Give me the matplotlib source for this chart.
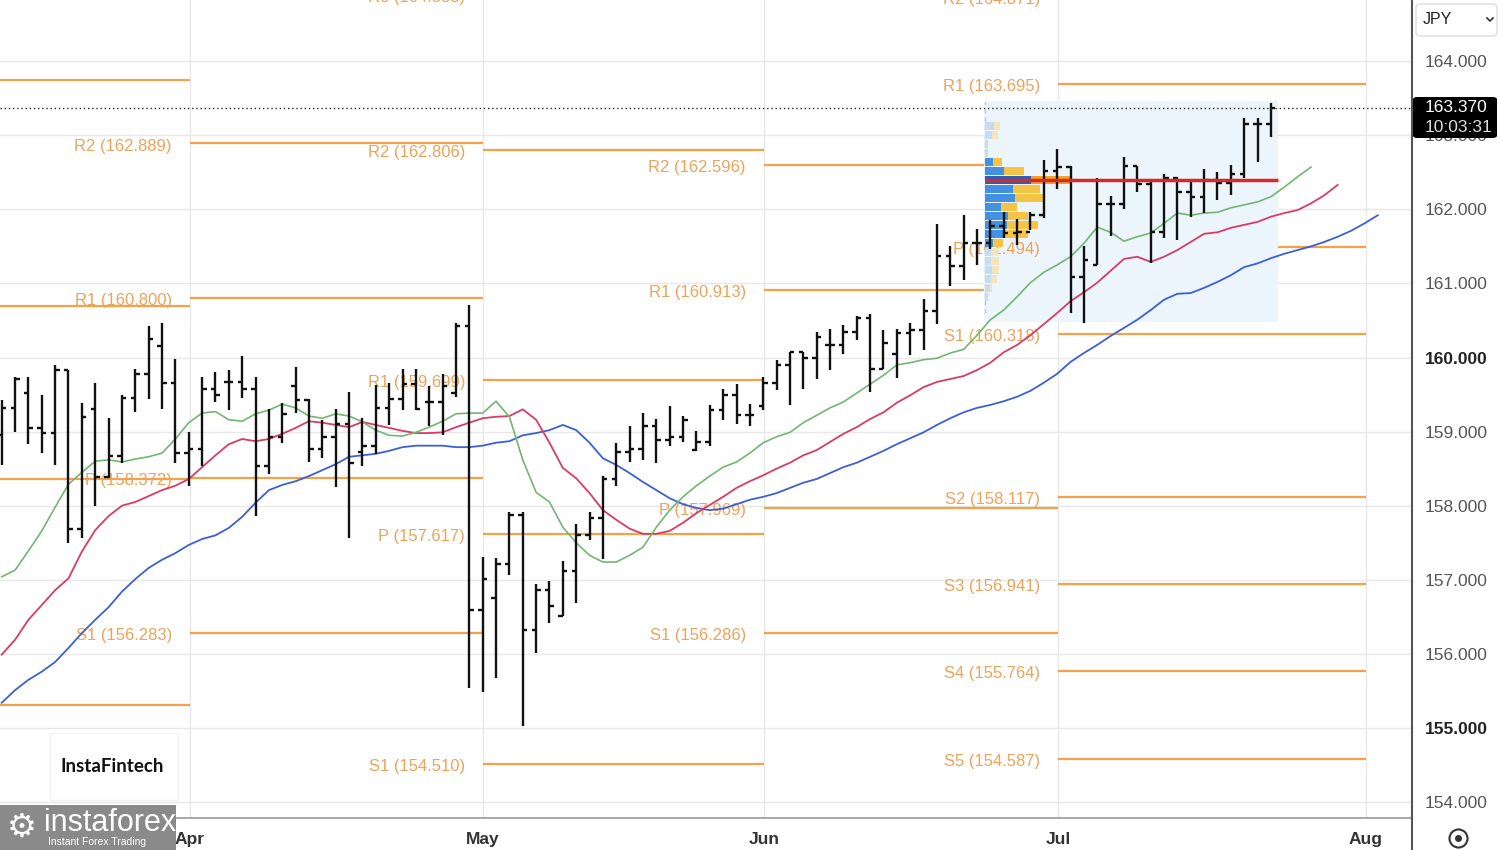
import numpy as np
import matplotlib
matplotlib.use('Agg')
import matplotlib.pyplot as plt
from matplotlib.patches import Rectangle, FancyBboxPatch
from matplotlib.lines import Line2D

plt.rcParams['font.family'] = ['Liberation Sans', 'DejaVu Sans']

# daily OHLC bars
opens = [158.95, 159.32, 159.52, 159.05, 158.98, 159.83, 157.68, 159.31, 158.39, 158.67,
         159.46, 159.78, 160.15, 159.66, 158.71, 158.77, 159.58, 159.67, 159.67, 159.58,
         158.53, 158.93, 159.61, 159.42, 158.76, 158.93, 159.10, 158.73, 158.81, 159.32,
         159.44, 159.64, 159.40, 159.40, 159.52, 160.43, 156.59, 156.75, 157.21, 157.87,
         156.32, 156.86, 156.51, 157.12, 157.61, 157.84, 158.36, 158.72, 158.77, 159.07,
         158.89, 158.93, 158.75, 158.86, 159.29, 159.49, 159.22, 159.35, 159.65, 159.90,
         160.07, 160.00, 160.17, 160.17, 160.35, 160.53, 159.85, 160.05, 160.33, 160.37,
         160.63, 161.37, 161.23, 161.55, 161.55, 161.78, 161.68, 161.69, 161.92, 162.52,
         162.57, 161.08, 161.25, 162.07, 162.07, 162.58, 162.34, 161.70, 162.42, 162.23,
         162.17, 162.39, 162.36, 162.48, 163.15, 163.15]
highs = [159.43, 159.74, 159.74, 159.49, 159.90, 159.83, 159.38, 159.65, 159.19, 159.49,
         159.84, 160.42, 160.46, 159.98, 159.00, 159.74, 159.81, 159.83, 160.02, 159.74,
         159.30, 159.38, 159.87, 159.44, 159.15, 159.30, 159.53, 159.19, 159.63, 159.65,
         159.84, 159.84, 159.62, 159.78, 160.46, 160.71, 157.31, 157.29, 157.92, 157.92,
         156.94, 156.98, 157.26, 157.75, 157.92, 158.40, 158.84, 159.07, 159.25, 159.17,
         159.34, 159.21, 159.01, 159.36, 159.57, 159.64, 159.37, 159.74, 159.97, 160.08,
         160.07, 160.34, 160.38, 160.44, 160.56, 160.59, 160.37, 160.39, 160.47, 160.79,
         161.80, 161.50, 161.92, 161.74, 161.86, 161.96, 161.87, 161.97, 162.67, 162.82,
         162.58, 161.50, 162.42, 162.18, 162.70, 162.58, 162.40, 162.48, 162.44, 162.40,
         162.54, 162.51, 162.60, 163.23, 163.23, 163.43]
lows = [158.55, 159.00, 158.83, 158.71, 158.55, 157.49, 157.56, 158.00, 158.37, 158.57,
        159.27, 159.44, 159.31, 158.58, 158.26, 158.53, 159.40, 159.29, 159.46, 157.86,
        158.43, 158.84, 159.25, 158.59, 158.64, 158.25, 157.57, 158.54, 158.70, 159.09,
        159.29, 159.29, 159.08, 158.95, 159.47, 155.54, 155.49, 155.67, 157.07, 155.02,
        156.01, 156.42, 156.51, 156.69, 157.54, 157.28, 158.26, 158.59, 158.62, 158.57,
        158.80, 158.86, 158.74, 158.80, 159.16, 159.10, 159.08, 159.29, 159.56, 159.36,
        159.57, 159.71, 159.83, 160.05, 160.23, 159.53, 159.85, 159.72, 160.03, 160.10,
        160.45, 160.97, 161.05, 161.25, 161.47, 161.61, 161.52, 161.72, 161.88, 162.28,
        160.60, 160.46, 161.25, 161.64, 162.01, 162.24, 161.28, 161.61, 161.58, 161.89,
        161.95, 162.12, 162.19, 162.42, 162.64, 162.98]
closes = [159.32, 159.71, 159.05, 158.98, 159.83, 157.68, 159.20, 158.39, 158.67, 159.46,
          159.78, 160.25, 159.66, 158.71, 158.77, 159.58, 159.49, 159.67, 159.58, 158.53,
          158.93, 159.24, 159.42, 158.76, 158.93, 159.10, 158.58, 158.81, 159.32, 159.44,
          159.64, 159.30, 159.40, 159.62, 160.43, 156.59, 157.01, 157.21, 157.87, 156.32,
          156.86, 156.64, 157.12, 157.61, 157.84, 158.36, 158.72, 158.77, 159.07, 158.89,
          158.93, 159.16, 158.86, 159.29, 159.49, 159.22, 159.22, 159.65, 159.90, 160.07,
          160.00, 160.27, 160.17, 160.35, 160.53, 159.85, 160.19, 160.33, 160.37, 160.63,
          161.37, 161.23, 161.55, 161.55, 161.78, 161.68, 161.69, 161.92, 162.52, 162.57,
          161.08, 161.32, 162.07, 162.07, 162.58, 162.34, 161.70, 162.42, 162.23, 162.17,
          162.39, 162.36, 162.48, 163.15, 163.15, 163.37]

# alligator lines (shifted forward past the last bar)
lips = [157.04, 157.13, 157.39, 157.66, 157.98, 158.29, 158.45, 158.60, 158.62, 158.59,
        158.63, 158.66, 158.71, 158.90, 159.12, 159.25, 159.27, 159.16, 159.14, 159.24,
        159.29, 159.37, 159.32, 159.21, 159.18, 159.24, 159.21, 159.13, 159.02, 158.95,
        158.94, 158.99, 159.06, 159.14, 159.24, 159.25, 159.25, 159.41, 159.20, 158.62,
        158.18, 158.05, 157.71, 157.50, 157.33, 157.24, 157.24, 157.33, 157.44, 157.71,
        157.94, 158.12, 158.27, 158.40, 158.52, 158.59, 158.71, 158.85, 158.93, 158.99,
        159.12, 159.22, 159.32, 159.40, 159.52, 159.64, 159.76, 159.90, 159.93, 159.97,
        159.99, 160.06, 160.11, 160.30, 160.51, 160.64, 160.82, 161.01, 161.15, 161.25,
        161.36, 161.54, 161.76, 161.69, 161.57, 161.63, 161.68, 161.81, 161.95, 161.92,
        161.95, 161.96, 162.02, 162.06, 162.10, 162.17, 162.30, 162.44, 162.57]
teeth = [155.99, 156.19, 156.46, 156.66, 156.86, 157.02, 157.38, 157.67, 157.86, 158.00,
         158.05, 158.13, 158.21, 158.27, 158.36, 158.52, 158.68, 158.83, 158.90, 158.87,
         158.90, 158.97, 159.05, 159.14, 159.12, 159.09, 159.06, 159.13, 159.09, 159.05,
         159.01, 158.98, 158.98, 158.99, 159.06, 159.12, 159.18, 159.20, 159.21, 159.30,
         159.16, 158.85, 158.51, 158.37, 158.17, 157.94, 157.81, 157.69, 157.62, 157.62,
         157.66, 157.77, 157.90, 158.01, 158.12, 158.24, 158.33, 158.41, 158.50, 158.58,
         158.68, 158.75, 158.86, 158.97, 159.06, 159.17, 159.26, 159.39, 159.49, 159.60,
         159.67, 159.71, 159.75, 159.83, 159.93, 160.07, 160.17, 160.30, 160.45, 160.60,
         160.76, 160.88, 161.01, 161.17, 161.33, 161.36, 161.29, 161.36, 161.45, 161.56,
         161.67, 161.69, 161.75, 161.79, 161.83, 161.90, 161.95, 161.99, 162.08, 162.19,
         162.33]
jaw = [155.34, 155.51, 155.65, 155.76, 155.89, 156.08, 156.28, 156.46, 156.63, 156.84,
       157.01, 157.16, 157.27, 157.36, 157.47, 157.55, 157.60, 157.70, 157.85, 158.04,
       158.21, 158.28, 158.33, 158.40, 158.48, 158.56, 158.66, 158.68, 158.70, 158.74,
       158.79, 158.81, 158.81, 158.81, 158.79, 158.79, 158.81, 158.85, 158.87, 158.95,
       158.98, 159.02, 159.09, 159.02, 158.85, 158.64, 158.55, 158.44, 158.32, 158.21,
       158.10, 158.02, 157.97, 157.94, 157.96, 158.02, 158.08, 158.12, 158.17, 158.24,
       158.31, 158.36, 158.44, 158.52, 158.58, 158.66, 158.74, 158.83, 158.91, 158.99,
       159.09, 159.18, 159.26, 159.32, 159.36, 159.41, 159.47, 159.55, 159.66, 159.78,
       159.94, 160.06, 160.17, 160.29, 160.40, 160.51, 160.64, 160.78, 160.86, 160.87,
       160.94, 161.02, 161.11, 161.22, 161.27, 161.34, 161.40, 161.45, 161.50, 161.56,
       161.63, 161.71, 161.81, 161.92]

# monthly pivot levels
month_pos = [14.09, 36.03, 57.06, 79.06, 102.12]
month_labels = ['Apr', 'May', 'Jun', 'Jul', 'Aug']
period_edges = [-1.0, 14.09, 36.03, 57.06, 79.06, 102.12]
mar_names = ['R2', 'R1', 'P', 'S1']
mar_levels = [163.745, 160.695, 158.360, 155.310]
apr_names = ['R2', 'R1', 'P', 'S1']
apr_levels = [162.889, 160.800, 158.372, 156.283]
may_names = ['R3', 'R2', 'R1', 'P', 'S1']
may_levels = [164.888, 162.806, 159.699, 157.617, 154.510]
jun_names = ['R2', 'R1', 'P', 'S1']
jun_levels = [162.596, 160.913, 157.969, 156.286]
jul_names = ['R2', 'R1', 'P', 'S1', 'S2', 'S3', 'S4', 'S5']
jul_levels = [164.871, 163.695, 161.494, 160.318, 158.117, 156.941, 155.764, 154.587]

# volume profile of the last bars (top row first)
profile_first, profile_last = 74, 95
poc_price = 162.395
row_step = 0.1215
vol_up = [9.3, 7.3, 2.7, 3.3, 8.3, 19.3, 46, 28.3, 30, 16, 22.7, 21.7, 18.3, 8.3,
          6, 6, 6.7, 6, 5, 3.3]
vol_down = [5.7, 6, 0, 0, 8.3, 19.7, 40.7, 26.7, 28.3, 15.7, 20, 31.7, 25, 10,
            7.3, 8, 7.3, 5.7, 2.3, 0]
value_area = [0, 0, 0, 0, 1, 1, 2, 1, 1, 1, 1, 1, 1, 1, 0, 0, 0, 0, 0, 0]
poc_row = 6

last_price = 163.370

W, H = 1500, 850
fig = plt.figure(figsize=(15, 8.5), dpi=100)
ax = fig.add_axes([0, 32 / H, 1412 / W, 818 / H])
ax.set_xlim(-0.127, 105.56)
ax.set_ylim(153.785, 164.825)


def fx(px):
    return px / W


def fy(py):
    return 1 - py / H


# grid and axes
yt = np.arange(154, 165)
ax.set_yticks(yt)
ax.set_yticklabels([f'{v:.3f}' for v in yt])
ax.yaxis.tick_right()
ax.tick_params(axis='y', length=0, pad=9, labelsize=12.5, labelcolor='#555555')
for lbl in ax.get_yticklabels():
    if lbl.get_text() in ('160.000', '155.000'):
        lbl.set_fontweight('bold')
        lbl.set_color('#222222')
ax.set_xticks(month_pos)
ax.set_xticklabels(month_labels)
ax.tick_params(axis='x', length=0, pad=10, labelsize=12.5, labelcolor='#333333')
for lbl in ax.get_xticklabels():
    lbl.set_fontweight('bold')
ax.grid(True, color='#e8e8e8', lw=1)
ax.set_axisbelow(True)
for s in ('top', 'left'):
    ax.spines[s].set_visible(False)
ax.spines['right'].set_color('#555555')
ax.spines['right'].set_linewidth(1.5)
ax.spines['bottom'].set_color('#999999')
ax.spines['bottom'].set_linewidth(1.2)
fig.add_artist(Line2D([fx(1412), fx(1412)], [0, 32 / H], color='#555555', lw=1.5))

# pivot levels
pivots = [(mar_names, mar_levels), (apr_names, apr_levels), (may_names, may_levels),
          (jun_names, jun_levels), (jul_names, jul_levels)]
for k, (names, levels) in enumerate(pivots):
    x0, x1 = period_edges[k], period_edges[k + 1]
    ax.hlines(levels, x0, x1, color='#f4a14a', lw=1.6, zorder=1)
    if x0 < 0:
        continue
    for name, lev in zip(names, levels):
        ax.text(x0 - 1.35, lev - 0.035, f'{name} ({lev:.3f})', ha='right', va='center',
                fontsize=12, color='#eda35a', zorder=2, clip_on=False)

# volume profile
ax.add_patch(Rectangle((profile_first - 0.5, 160.48), profile_last - profile_first + 1,
                       163.46 - 160.48, facecolor='#ecf4fc', edgecolor='none', zorder=1.5))
ax.plot([profile_first - 0.4] * 2, [160.6, 163.45], ls=(0, (3, 3)), color='#a9cdee',
        lw=1, zorder=1.6)
centers = poc_price - row_step * (np.arange(len(vol_up)) - poc_row)
px_per_bar = 13.36
up = np.array(vol_up) / px_per_bar
dn = np.array(vol_down) / px_per_bar
up_col = {0: '#c8dcf1', 1: '#4391e0', 2: '#2c5fb8'}
dn_col = {0: '#f2e5c0', 1: '#f6c445', 2: '#f5a21e'}
left = profile_first - 0.4
ax.barh(centers, up, left=left, height=row_step * 0.86,
        color=[up_col[v] for v in value_area], zorder=2)
ax.barh(centers, dn, left=left + up, height=row_step * 0.86,
        color=[dn_col[v] for v in value_area], zorder=2)

# alligator
ax.plot(np.arange(len(jaw)), jaw, color='#3d5fd6', lw=1.3, zorder=3)
ax.plot(np.arange(len(teeth)), teeth, color='#d83c66', lw=1.3, zorder=3)
ax.plot(np.arange(len(lips)), lips, color='#74b574', lw=1.2, zorder=3)

# OHLC bars
idx = np.arange(len(closes))
ax.vlines(idx, lows, highs, color='#111111', lw=1.7, zorder=4)
ax.hlines(opens, idx - 0.34, idx, color='#111111', lw=1.7, zorder=4)
ax.hlines(closes, idx, idx + 0.34, color='#111111', lw=1.7, zorder=4)

# point of control
ax.hlines(poc_price, profile_first - 0.4, profile_last + 0.5, color='#d42a2a', lw=2.5, zorder=5)

# last price
ax.axhline(last_price, color='#222222', ls=(0, (1, 2)), lw=1, zorder=5)
fig.add_artist(FancyBboxPatch((fx(1413), fy(138)), fx(84), 41 / H,
                              boxstyle='round,pad=0,rounding_size=0.003',
                              facecolor='black', edgecolor='none', transform=fig.transFigure))
fig.text(fx(1425), fy(108), f'{last_price:.3f}', color='white', fontsize=12.5, va='center')
fig.text(fx(1425), fy(127), '10:03:31', color='#dddddd', fontsize=12.5, va='center')

# currency selector
fig.add_artist(FancyBboxPatch((fx(1416), fy(36)), fx(81), 32 / H,
                              boxstyle='round,pad=0,rounding_size=0.004',
                              facecolor='white', edgecolor='#dddddd', lw=1,
                              transform=fig.transFigure))
fig.text(fx(1423), fy(19), 'JPY', color='#222222', fontsize=11.5, va='center')
fig.add_artist(Line2D([fx(1487), fx(1490), fx(1493)], [fy(18), fy(21), fy(18)],
                      color='#333333', lw=1.2))

# settings icon
fig.add_artist(Line2D([fx(1458)], [fy(838)], marker='o', ms=13, mfc='none', mec='#333333',
                      mew=1.5))
fig.add_artist(Line2D([fx(1458)], [fy(838)], marker='o', ms=4, mfc='#333333', mec='#333333'))

# watermarks
fig.add_artist(Rectangle((fx(50), fy(800)), fx(128), 67 / H, facecolor='white',
                         edgecolor='#f4f4f4', lw=1, transform=fig.transFigure))
fig.text(fx(60), fy(767), 'InstaFintech', color='#111111', fontsize=13.5,
         fontweight='bold', va='center', family=['Lato', 'DejaVu Sans'])
fig.add_artist(Rectangle((0, 0), fx(176), 45 / H, facecolor='#8a8a8a', edgecolor='none',
                         transform=fig.transFigure))
fig.text(fx(22), fy(827), '\u2699', color='white', fontsize=24, ha='center', va='center',
         family=['DejaVu Sans'])
fig.text(fx(44), fy(823), 'instaforex', color='white', fontsize=22, va='center')
fig.text(fx(48), fy(842), 'Instant Forex Trading', color='white', fontsize=7.5, va='center')

fig.savefig('out.png', dpi=100)
